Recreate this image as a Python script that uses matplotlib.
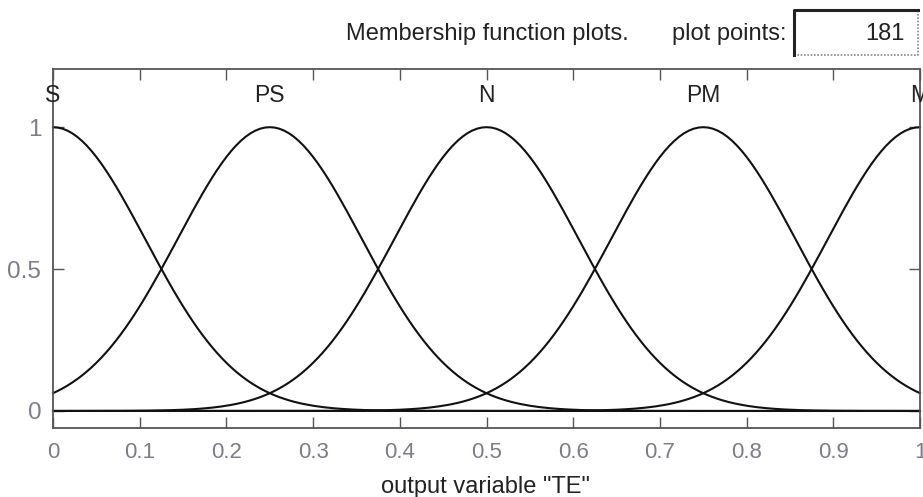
import numpy as np
import matplotlib
matplotlib.use("Agg")
import matplotlib.pyplot as plt
from matplotlib.patches import Rectangle
from matplotlib.lines import Line2D

# Membership function parameters (gaussmf: [sigma, center])
mf_names = ["S", "PS", "N", "PM", "M"]
mf_centers = [0.0, 0.25, 0.5, 0.75, 1.0]
mf_sigmas = [0.1062, 0.1062, 0.1062, 0.1062, 0.1062]
plot_points = 181
x_ticks = [0, 0.1, 0.2, 0.3, 0.4, 0.5, 0.6, 0.7, 0.8, 0.9, 1]
x_ticklabels = ["0", "0.1", "0.2", "0.3", "0.4", "0.5", "0.6", "0.7", "0.8", "0.9", "1"]
y_ticks = [0, 0.5, 1]
y_ticklabels = ["0", "0.5", "1"]

plt.rcParams['font.family'] = ['Liberation Sans', 'DejaVu Sans']

W, H = 923, 497
fig = plt.figure(figsize=(W / 100, H / 100), dpi=100)
ax = fig.add_axes([53 / W, 69 / H, 867 / W, 359 / H])

x = np.linspace(0, 1, plot_points)
for name, c, s in zip(mf_names, mf_centers, mf_sigmas):
    y = np.exp(-((x - c) ** 2) / (2 * s ** 2))
    ax.plot(x, y, color="#111111", lw=1.5, clip_on=False)
    ax.text(c, 1.112, name, ha="center", va="center", fontsize=16.5, color="#222222")

ax.set_xlim(0, 1)
ax.set_ylim(-0.06, 1.205)
ax.set_xticks(x_ticks)
ax.set_xticklabels(x_ticklabels)
ax.set_yticks(y_ticks)
ax.set_yticklabels(y_ticklabels)
ax.tick_params(direction="in", length=8, width=1, colors="#555555",
               top=True, right=True, labelcolor="#7c7c8c")
ax.tick_params(axis="x", pad=10, labelsize=16)
ax.tick_params(axis="y", pad=8.5, labelsize=17.5)
for sp in ax.spines.values():
    sp.set_linestyle((0, (1, 1)))
    sp.set_color("#555555")
    sp.set_linewidth(1.3)

ax.set_xlabel('output variable "TE"', fontsize=17, color="#222222")
ax.xaxis.label.set_va("baseline")
ax.xaxis.set_label_coords((485 - 53) / 867, (4 - 69) / 359)

ty = 1 - 40 / H
fig.text(487 / W, ty, "Membership function plots.", ha="center", va="baseline",
         fontsize=17, color="#222222")
fig.text(786 / W, ty, "plot points:", ha="right", va="baseline",
         fontsize=17, color="#222222")
bx0, bx1, by0, by1 = 794 / W, 918 / W, 1 - 55 / H, 1 - 10 / H
box = Rectangle((bx0, by0), bx1 - bx0, by1 - by0, transform=fig.transFigure,
                facecolor="white", edgecolor="#888888", lw=1.2, linestyle=(0, (1, 1)))
fig.patches.append(box)
fig.lines.append(Line2D([bx0, bx0, bx1], [by0, by1, by1], transform=fig.transFigure,
                        color="#222222", lw=2.2))
fig.text(905 / W, ty, str(plot_points), ha="right", va="baseline",
         fontsize=17, color="#222222")

fig.savefig("out.png", dpi=100)
